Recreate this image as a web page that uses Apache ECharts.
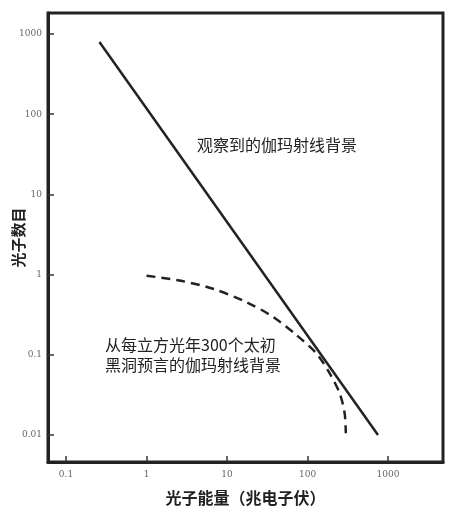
<!DOCTYPE html>
<html><head><meta charset="utf-8">
<script src="https://cdn.jsdelivr.net/npm/echarts@6/dist/echarts.min.js"></script>
<style>html,body{margin:0;padding:0;background:#fff}#c{width:453px;height:510px}</style>
</head><body><div id="c"></div>
<script>
// tick values (powers of ten) and labels
const xTickExp = [-1, 0, 1, 2, 3];
const xTickLabels = ['0.1', '1', '10', '100', '1000'];
const yTickExp = [-2, -1, 0, 1, 2, 3];
const yTickLabels = ['0.01', '0.1', '1', '10', '100', '1000'];
// observed gamma-ray background (straight line on log-log)
const observedX = [0.26, 751];
const observedY = [794, 0.01];
// predicted background from primordial black holes (dashed)
const predictedX = [1.0, 2.77, 6.7, 17.1, 36.8, 72.4, 128, 188, 251, 289, 299];
const predictedY = [0.97, 0.83, 0.665, 0.457, 0.30, 0.177, 0.105, 0.059, 0.033, 0.0187, 0.0105];

const pairs = (xs, ys) => xs.map((x, i) => [Math.log10(x), Math.log10(ys[i])]);
const chart = echarts.init(document.getElementById('c'), null, {renderer: 'canvas'});
const tickFont = {color: '#666', fontSize: 9, fontFamily: 'DejaVu Serif'};
chart.setOption({
  backgroundColor: '#fff',
  animation: false,
  grid: {left: 48, top: 13, right: 10, bottom: 48, containLabel: false, outerBoundsMode: 'none',
    show: true, borderColor: '#222', borderWidth: 3, backgroundColor: 'transparent'},
  xAxis: {
    type: 'value', min: -1.224, max: 3.683,
    name: '光子能量（兆电子伏）', nameLocation: 'middle', nameGap: 28, nameMoveOverlap: false,
    nameTextStyle: {fontFamily: 'Noto Sans CJK SC', fontSize: 16, fontWeight: 'bold', color: '#222'},
    axisLine: {show: true, onZero: false, lineStyle: {color: '#222', width: 3}},
    axisTick: {show: true, inside: true, length: 6, lineStyle: {color: '#333', width: 1.5}, customValues: xTickExp},
    axisLabel: {customValues: xTickExp, margin: 8, ...tickFont,
      formatter: v => xTickLabels[xTickExp.indexOf(Math.round(v))]},
    splitLine: {show: false}
  },
  yAxis: {
    type: 'value', min: -2.337, max: 3.262,
    name: '光子数目', nameLocation: 'middle', nameGap: 22, nameRotate: 90, nameMoveOverlap: false,
    nameTextStyle: {fontFamily: 'Noto Sans CJK SC', fontSize: 15, fontWeight: 'bold', color: '#222'},
    axisLine: {show: true, onZero: false, lineStyle: {color: '#222', width: 3}},
    axisTick: {show: true, inside: true, length: 6, lineStyle: {color: '#333', width: 1.5}, customValues: yTickExp},
    axisLabel: {customValues: yTickExp, margin: 6, ...tickFont,
      formatter: v => yTickLabels[yTickExp.indexOf(Math.round(v))]},
    splitLine: {show: false}
  },
  series: [
    {type: 'line', data: pairs(observedX, observedY), showSymbol: false, symbol: 'none',
     lineStyle: {color: '#222', width: 2.5}},
    {type: 'line', data: pairs(predictedX, predictedY), showSymbol: false, symbol: 'none', smooth: 0.3,
     lineStyle: {color: '#222', width: 2.5, type: [9, 6]}}
  ],
  graphic: [
    {type: 'text', left: 197, top: 137, style: {text: '观察到的伽玛射线背景', fontFamily: 'Noto Sans CJK SC', fontSize: 16, fill: '#222'}},
    {type: 'text', left: 105, top: 335, style: {text: '从每立方光年300个太初\n黑洞预言的伽玛射线背景', fontFamily: 'Noto Sans CJK SC', fontSize: 16, lineHeight: 20, fill: '#222'}}
  ]
});
</script></body></html>
